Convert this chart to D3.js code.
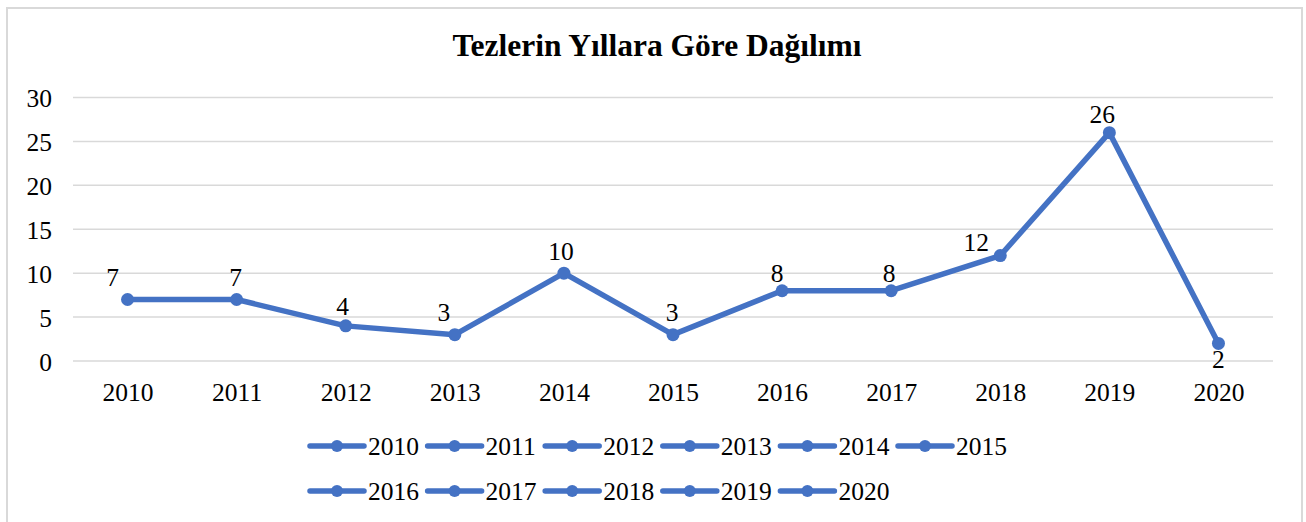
<!DOCTYPE html>
<html>
<head>
<meta charset="utf-8">
<script src="https://cdn.jsdelivr.net/npm/d3@7"></script>
<style>
  html, body { margin: 0; padding: 0; background: #fff; }
  svg { display: block; }
  text { font-family: "Liberation Serif", "Times New Roman", serif; fill: #000; }
</style>
</head>
<body>
<svg id="chart" width="1306" height="522"></svg>
<script>
const title = "Tezlerin Yıllara Göre Dağılımı";
const years = ["2010","2011","2012","2013","2014","2015","2016","2017","2018","2019","2020"];
const counts = [7, 7, 4, 3, 10, 3, 8, 8, 12, 26, 2];
const yTicks = [0, 5, 10, 15, 20, 25, 30];
const legendLabels = ["2010","2011","2012","2013","2014","2015","2016","2017","2018","2019","2020"];

// label placement tweaks (layout only)
const labelDx = [-15, -1, -3, -11, -3, -1, -5, -2, -24, -7, 0];
const labelDy = [-14, -14, -11, -14, -13, -14, -9, -9, -5, -10, 25];

const color = "#4472C4";
const svg = d3.select("#chart");

// chart border
svg.append("rect").attr("x", 7).attr("y", 8).attr("width", 1295).attr("height", 530)
  .attr("fill", "none").attr("stroke", "#d9d9d9").attr("stroke-width", 2);

svg.append("text").attr("x", 657).attr("y", 56).attr("text-anchor", "middle")
  .style("font-size", "31.5px").style("font-weight", "bold").text(title);

const x = d3.scalePoint().domain(years).range([73, 1273]).padding(0.5);
const y = d3.scaleLinear().domain([0, 30]).range([361, 97.5]);

// gridlines
svg.append("g").selectAll("line").data(yTicks).join("line")
  .attr("x1", 73).attr("x2", 1273)
  .attr("y1", d => y(d)).attr("y2", d => y(d))
  .attr("stroke", "#d9d9d9").attr("stroke-width", 1.5);

// y axis labels
const yAxis = d3.axisLeft(y).tickValues(yTicks).tickSize(0).tickPadding(0);
const gy = svg.append("g").attr("transform", "translate(52,0)").call(yAxis);
gy.attr("font-family", null);
gy.select(".domain").remove();
gy.selectAll("text").style("font-size", "25.5px").attr("dy", "9px")
  .style("font-family", "'Liberation Serif','Times New Roman',serif").attr("fill", "#000");

// x axis labels
const xAxis = d3.axisBottom(x).tickSize(0).tickPadding(0);
const gx = svg.append("g").attr("transform", "translate(0,383)").call(xAxis);
gx.attr("font-family", null);
gx.select(".domain").remove();
gx.selectAll("text").style("font-size", "25.5px").attr("dy", "18px")
  .style("font-family", "'Liberation Serif','Times New Roman',serif").attr("fill", "#000");

const pts = years.map((yr, i) => ({ yr, v: counts[i], i }));

svg.append("path").datum(pts)
  .attr("fill", "none").attr("stroke", color).attr("stroke-width", 5.5)
  .attr("stroke-linejoin", "round").attr("stroke-linecap", "round")
  .attr("d", d3.line().x(d => x(d.yr)).y(d => y(d.v)));

svg.append("g").selectAll("circle").data(pts).join("circle")
  .attr("cx", d => x(d.yr)).attr("cy", d => y(d.v)).attr("r", 6.5)
  .attr("fill", color);

svg.append("g").selectAll("text").data(pts).join("text")
  .attr("x", d => x(d.yr) + labelDx[d.i]).attr("y", d => y(d.v) + labelDy[d.i])
  .attr("text-anchor", "middle").style("font-size", "25.5px").text(d => d.v);

// legend
const perRow = 6, entryW = 117.6, lx0 = 308, rowY = [446, 491];
const lg = svg.append("g").selectAll("g").data(legendLabels).join("g")
  .attr("transform", (d, i) => `translate(${lx0 + (i % perRow) * entryW},${rowY[Math.floor(i / perRow)]})`);
lg.append("line").attr("x1", 2).attr("x2", 56).attr("y1", 0).attr("y2", 0)
  .attr("stroke", color).attr("stroke-width", 5.5).attr("stroke-linecap", "round");
lg.append("circle").attr("cx", 29).attr("cy", 0).attr("r", 6).attr("fill", color);
lg.append("text").attr("x", 60).attr("y", 9).style("font-size", "25.5px").text(d => d);
</script>
</body>
</html>
